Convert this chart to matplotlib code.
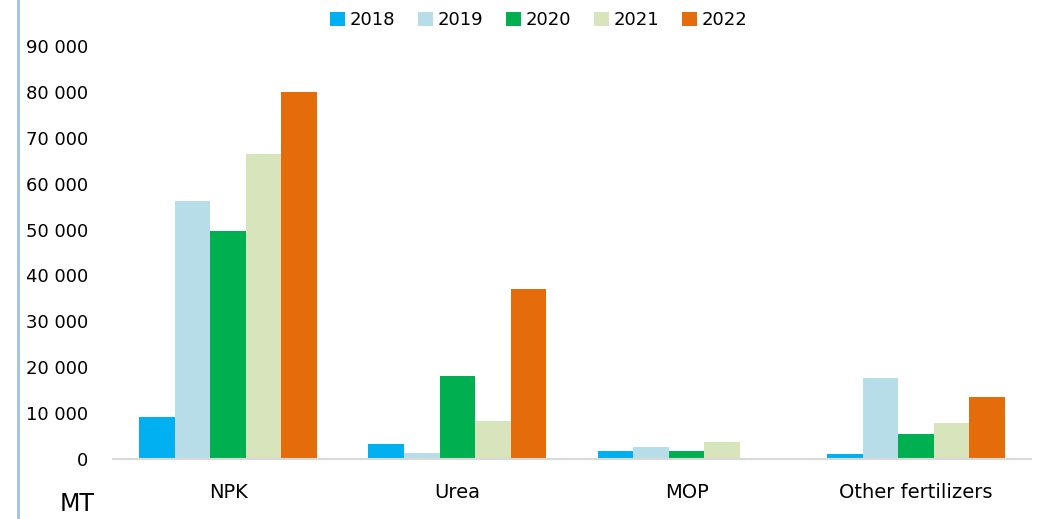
import numpy as np
import matplotlib.pyplot as plt

# data
categories = ["NPK", "Urea", "MOP", "Other fertilizers"]
years = ["2018", "2019", "2020", "2021", "2022"]
v2018 = [9200, 3300, 1750, 1000]
v2019 = [56300, 1300, 2700, 17700]
v2020 = [49700, 18100, 1750, 5500]
v2021 = [66500, 8300, 3800, 7850]
v2022 = [80000, 37000, 200, 13600]
colors = ["#00b0f0", "#b7dee8", "#00b050", "#d8e4bc", "#e46c0a"]

series = [v2018, v2019, v2020, v2021, v2022]

fig = plt.figure(figsize=(10.4, 5.19), dpi=100)
ax = fig.add_axes([0.109, 0.1156, 0.882, 0.7958])

x = np.arange(len(categories))
w = 0.155
for i, (vals, yr, c) in enumerate(zip(series, years, colors)):
    ax.bar(x + (i - 2) * w, vals, w, color=c, label=yr)

ax.set_xlim(-0.5, 3.5)
ax.set_ylim(0, 90000)
ax.set_yticks(np.arange(0, 90001, 10000))
ax.set_yticklabels([f"{v:,}".replace(",", " ") for v in range(0, 90001, 10000)])
ax.set_xticks(x)
ax.set_xticklabels(categories)
ax.tick_params(length=0, labelsize=14, colors="black")
ax.tick_params(axis="y", labelsize=13, pad=18)
ax.tick_params(axis="x", pad=17)
for s in ["top", "right", "left"]:
    ax.spines[s].set_visible(False)
ax.spines["bottom"].set_color("#d9d9d9")
ax.spines["bottom"].set_linewidth(1.5)

ax.legend(loc="center", bbox_to_anchor=(0.464, 1.063), ncol=5, frameon=False,
          fontsize=13, handlelength=0.8, handleheight=0.8, handletextpad=0.3,
          columnspacing=1.25)

# MT label and left border line
fig.text(0.074, 0.006, "MT", fontsize=17, ha="center", va="bottom")
fig.add_artist(plt.Line2D([0.017, 0.017], [0, 1], transform=fig.transFigure,
                          color="#9dc3e6", linewidth=2))

fig.savefig("out.png", dpi=100)
